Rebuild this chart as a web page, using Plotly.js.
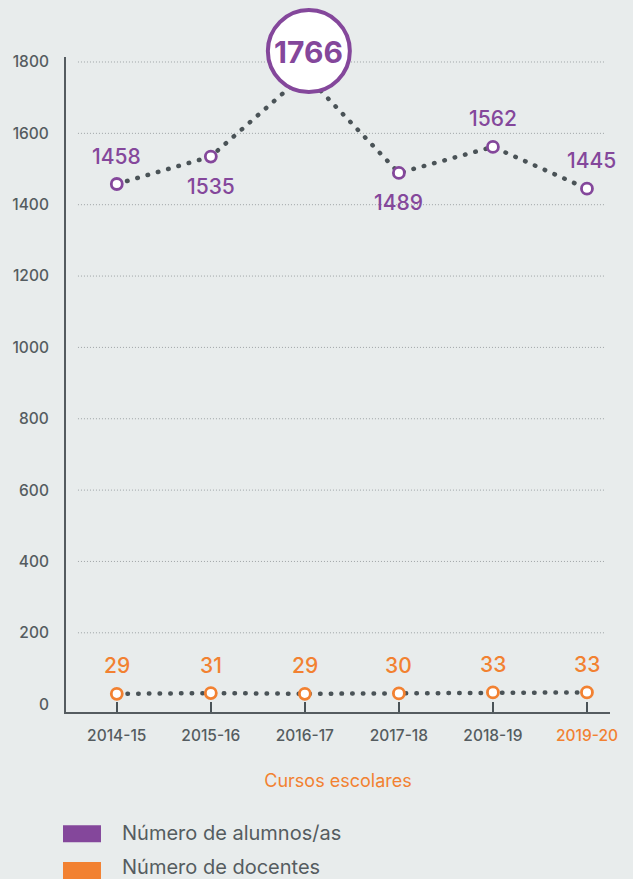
<!DOCTYPE html>
<html><head><meta charset="utf-8">
<script src="https://cdn.plot.ly/plotly-3.0.1.min.js"></script>
<style>
html,body{margin:0;padding:0;background:#e8ecec;}
.scatterlayer .js-line{stroke-linecap:round;}
</style>
</head><body><div id="chart" style="width:633px;height:879px;"></div>
<script>
// ---- data ----
const cursos = ['2014-15','2015-16','2016-17','2017-18','2018-19','2019-20'];
const alumnos = [1458,1535,1766,1489,1562,1445];
const docentes = [29,31,29,30,33,33];
const yTicks = [0,200,400,600,800,1000,1200,1400,1600,1800];
const serieNombres = ['Número de alumnos/as','Número de docentes'];
const xTitulo = 'Cursos escolares';
const destacado = 2;

// ---- style ----
const PURPLE='#84479b', ORANGE='#f28131', DOTS='#4a5357', GRAY='#555c60', BG='#e8ecec', GRID='#9ea4a6';
const FONT='Inter, "Open Sans", sans-serif';
const yRange=[-22,1814];
const xRange=[-0.54,5.245];
const alumnosPos=['top','bottom',null,'bottom','top','top'];
const alumnosXShift=[0,0,0,0,0,5];

const dotLine={color:DOTS,width:4.5,dash:'0.5px,10.2px'};
function mk(c){return {symbol:'circle',size:11,color:'#ffffff',line:{color:c,width:2.8}};}

const traces=[
 {type:'scatter',mode:'lines+markers',x:cursos,y:alumnos,line:dotLine,marker:mk(PURPLE),cliponaxis:false,showlegend:false,hoverinfo:'skip'},
 {type:'scatter',mode:'lines+markers',x:cursos,y:docentes,line:dotLine,marker:mk(ORANGE),cliponaxis:false,showlegend:false,hoverinfo:'skip'}
];

const annotations=[];
alumnos.forEach((v,i)=>{
  if(i===destacado) return;
  annotations.push({x:cursos[i],y:v,xref:'x',yref:'y',text:String(v),showarrow:false,
    xshift:alumnosXShift[i],yshift:alumnosPos[i]==='top'?28:-30,font:{family:FONT,size:21,color:PURPLE,weight:500}});
});
docentes.forEach((v,i)=>{
  annotations.push({x:cursos[i],y:v,xref:'x',yref:'y',text:String(v),showarrow:false,
    yshift:28,font:{family:FONT,size:21,color:ORANGE,weight:500}});
});
annotations.push({x:cursos[destacado],y:alumnos[destacado],xref:'x',yref:'y',text:String(alumnos[destacado]),
  showarrow:false,xshift:4,yshift:22,font:{family:FONT,size:30,color:PURPLE,weight:700}});

const shapes=[];
yTicks.filter(v=>v>0).forEach(v=>{
  shapes.push({type:'line',xref:'paper',yref:'y',x0:0.022,x1:0.99,y0:v,y1:v,layer:'below',
    line:{color:GRID,width:1,dash:'1px,2px'}});
});
// highlight circle around the peak value
shapes.push({type:'circle',layer:'above',xref:'paper',yref:'paper',xsizemode:'pixel',ysizemode:'pixel',
  xanchor:(destacado-xRange[0])/(xRange[1]-xRange[0]),
  yanchor:(alumnos[destacado]-yRange[0])/(yRange[1]-yRange[0]),
  x0:-37,x1:45,y0:-18,y1:64,fillcolor:'#ffffff',line:{color:PURPLE,width:4}});
// legend swatches
const legColors=[PURPLE,ORANGE];
const legY=[-0.186,-0.242];
const legTextY=[-0.185,-0.236];
serieNombres.forEach((n,i)=>{
  shapes.push({type:'rect',xref:'paper',yref:'paper',x0:-0.0055,x1:0.0643,y0:legY[i]-0.013,y1:legY[i]+0.013,
    fillcolor:legColors[i],line:{width:0}});
  annotations.push({xref:'paper',yref:'paper',x:0.1,y:legTextY[i],xanchor:'left',yanchor:'middle',text:n,
    showarrow:false,font:{family:FONT,size:20,color:GRAY}});
});

const ticktext=cursos.map((c,i)=>i===cursos.length-1?'<span style="fill:'+ORANGE+'">'+c+'</span>':c);

const layout={
  width:633,height:879,
  margin:{l:66,r:23,t:57,b:167},
  paper_bgcolor:BG,plot_bgcolor:BG,
  font:{family:FONT,color:GRAY},
  showlegend:false,
  xaxis:{type:'category',range:xRange,tickvals:cursos,ticktext:ticktext,showline:true,linecolor:GRAY,linewidth:2,
    ticks:'inside',ticklen:10,tickwidth:2,tickcolor:DOTS,showgrid:false,zeroline:false,
    tickfont:{family:FONT,size:15.5,color:GRAY,weight:500},ticklabelstandoff:8,automargin:false,
    title:{text:xTitulo,font:{family:FONT,size:18,color:ORANGE},standoff:31}},
  yaxis:{range:yRange,tickvals:yTicks,showline:true,linecolor:GRAY,linewidth:2,showgrid:false,zeroline:false,
    ticks:'',tickfont:{family:FONT,size:15.5,color:GRAY,weight:500},ticklabelstandoff:12,automargin:false},
  shapes:shapes,annotations:annotations
};
Plotly.newPlot('chart',traces,layout,{displayModeBar:false,staticPlot:true});
</script></body></html>
